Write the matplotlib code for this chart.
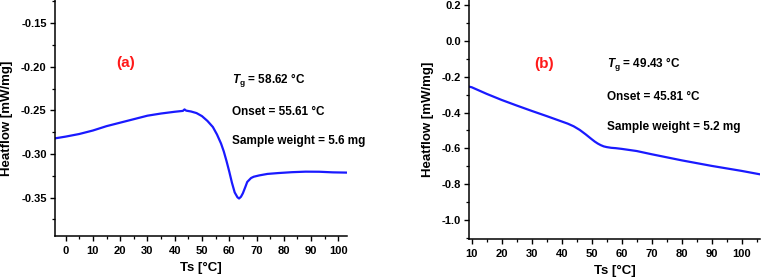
import matplotlib

matplotlib.use("Agg")
import matplotlib.pyplot as plt
from matplotlib.ticker import MultipleLocator, FormatStrFormatter

plt.rcParams["font.family"] = ["Liberation Sans", "DejaVu Sans"]
plt.rcParams["font.weight"] = "bold"
plt.rcParams["axes.unicode_minus"] = False
plt.rcParams["mathtext.fontset"] = "custom"
plt.rcParams["mathtext.rm"] = "Liberation Sans:bold"
plt.rcParams["mathtext.bf"] = "Liberation Sans:bold"
plt.rcParams["mathtext.it"] = "Liberation Sans:italic:bold"
plt.rcParams["mathtext.bfit"] = "Liberation Sans:italic:bold"

# panel (a) DSC curve
a_temp = [-3.9, 0, 5, 10, 15, 20, 25, 30, 35, 40, 43, 43.6, 44.2, 46, 48,
          50, 52, 54, 55.5, 57, 58, 59, 60, 61, 62, 63, 63.6, 64.3, 65, 66,
          66.6, 68, 69, 71, 74, 78, 83, 88, 93, 98, 103.3]
a_heat = [-0.282, -0.280, -0.277, -0.273, -0.268, -0.264, -0.260, -0.256,
          -0.2535, -0.2515, -0.2505, -0.2488, -0.2502, -0.2512, -0.2530,
          -0.2565, -0.2620, -0.2690, -0.2775, -0.2880, -0.2970, -0.3080,
          -0.3200, -0.3330, -0.3440, -0.3495, -0.3510, -0.3490, -0.3450,
          -0.3370, -0.3320, -0.3275, -0.3260, -0.3245, -0.3228, -0.3218,
          -0.3208, -0.3202, -0.3203, -0.3210, -0.3213]

# panel (b) DSC curve
b_temp = [9.2, 10, 15, 20, 25, 30, 35, 40, 42, 44, 46, 48, 50, 51, 52, 53,
          54, 55, 56.5, 58, 60, 65, 70, 80, 90, 100, 106.1]
b_heat = [-0.256, -0.259, -0.296, -0.330, -0.361, -0.391, -0.420, -0.450,
          -0.462, -0.477, -0.497, -0.522, -0.549, -0.562, -0.573, -0.582,
          -0.589, -0.593, -0.597, -0.599, -0.603, -0.615, -0.633, -0.667,
          -0.698, -0.726, -0.745]

labels = ["(a)", "(b)"]
a_notes = [r"$\mathit{T}_{\mathrm{g}}$ = 58.62 °C", "Onset = 55.61 °C",
           "Sample weight = 5.6 mg"]
b_notes = [r"$\mathit{T}_{\mathrm{g}}$ = 49.43 °C", "Onset = 45.81 °C",
           "Sample weight = 5.2 mg"]

W, H = 761, 280
fig = plt.figure(figsize=(W / 100, H / 100), dpi=100)


def px_axes(left, top, right, bottom):
    return fig.add_axes([left / W, 1 - bottom / H, (right - left) / W,
                         (bottom - top) / H])


def style(ax, xmaj, ymaj, ymin, yfmt):
    for side in ["top", "right"]:
        ax.spines[side].set_visible(False)
    for side in ["left", "bottom"]:
        ax.spines[side].set_linewidth(1.1)
    ax.xaxis.set_major_locator(MultipleLocator(xmaj))
    ax.xaxis.set_minor_locator(MultipleLocator(5))
    ax.yaxis.set_major_locator(MultipleLocator(ymaj))
    ax.yaxis.set_minor_locator(MultipleLocator(ymin))
    ax.yaxis.set_major_formatter(FormatStrFormatter(yfmt))
    ax.tick_params(which="major", length=3.5, width=1.0, labelsize=8,
                   direction="out")
    ax.tick_params(which="minor", length=2, width=0.9, direction="out")
    ax.tick_params(axis="x", pad=3.5)
    ax.tick_params(axis="y", pad=2.5)
    ax.set_xlabel("Ts [°C]", fontsize=9.5, fontweight="bold", labelpad=4.5)
    ax.set_ylabel("Heatflow [mW/mg]", fontsize=9.5, fontweight="bold",
                  labelpad=5.5)


ax1 = px_axes(55, 0, 347.3, 236)
ax1.plot(a_temp, a_heat, color="#1a1aff", lw=1.6)
ax1.set_xlim(-3.9, 103.3)
ax1.set_ylim(-0.394, -0.1233)
style(ax1, 10, 0.05, 0.025, "%.2f")

ax2 = px_axes(469.3, 0, 760, 239)
ax2.plot(b_temp, b_heat, color="#1a1aff", lw=1.6)
ax2.set_xlim(9.2, 106.1)
ax2.set_ylim(-1.106, 0.228)
style(ax2, 10, 0.2, 0.1, "%.1f")

fig.text(125.5 / W, 1 - 63.3 / H, labels[0], color="#ff1a1a", fontsize=11,
         fontweight="bold", ha="center", va="center")
fig.text(544 / W, 1 - 64 / H, labels[1], color="#ff1a1a", fontsize=11,
         fontweight="bold", ha="center", va="center")

for note, y in zip(a_notes, [80.7, 111.7, 140.7]):
    fig.text(231.7 / W, 1 - y / H, note, fontsize=8.5, fontweight="bold",
             ha="left", va="center")
for note, y in zip(b_notes, [65, 96.7, 126.7]):
    fig.text(607.3 / W, 1 - y / H, note, fontsize=8.5, fontweight="bold",
             ha="left", va="center")

fig.savefig("out.png", dpi=100)
